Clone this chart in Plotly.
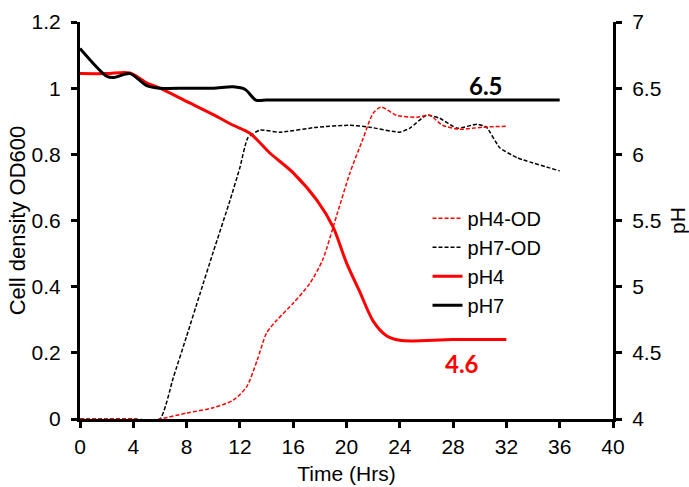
import plotly.graph_objects as go

# ---- data ----
t_ph4_od = [0, 2, 4, 5, 6, 8, 10, 11.5, 12.5, 13.3, 14, 14.8, 16, 17.25, 18.2, 19.3, 20.25, 21.2, 22, 22.6, 23.75, 25.3, 26.25, 27.2, 28.5, 30.2, 32]
ph4_od = [0, 0, 0, -0.005, 0, 0.018, 0.034, 0.057, 0.097, 0.178, 0.26, 0.30, 0.35, 0.41, 0.48, 0.62, 0.743, 0.843, 0.924, 0.943, 0.918, 0.912, 0.918, 0.888, 0.876, 0.882, 0.885]

t_ph7_od = [0, 2, 4, 6, 7, 8, 9, 10, 11.25, 12, 12.6, 13.5, 15, 17.8, 20.25, 21.75, 24, 24.75, 26, 27, 28.3, 29.8, 30.5, 31.5, 32.8, 36]
ph7_od = [0, 0, 0, 0, 0.125, 0.25, 0.378, 0.505, 0.66, 0.76, 0.85, 0.873, 0.867, 0.882, 0.888, 0.882, 0.867, 0.879, 0.918, 0.909, 0.879, 0.891, 0.882, 0.82, 0.79, 0.75]

t_ph4 = [0, 2, 3.75, 5, 6, 8, 10, 11.5, 12.75, 14.25, 16, 17.8, 19, 20, 21, 22, 23, 24, 25, 28, 32]
ph4 = [6.61, 6.61, 6.615, 6.54, 6.50, 6.40, 6.30, 6.22, 6.16, 6.01, 5.86, 5.65, 5.45, 5.18, 4.96, 4.74, 4.63, 4.595, 4.59, 4.6, 4.6]

t_ph7 = [0, 2, 2.5, 3.75, 5, 6, 8, 10, 11.5, 12.4, 13.2, 14, 16, 20, 24, 28, 32, 36]
ph7 = [6.80, 6.59, 6.58, 6.61, 6.52, 6.50, 6.50, 6.50, 6.51, 6.49, 6.41, 6.41, 6.41, 6.41, 6.41, 6.41, 6.41, 6.41]

x_ticks = list(range(0, 41, 4))
label_ph7 = "6.5"
label_ph4 = "4.6"

FONT = "Arial, Liberation Sans, sans-serif"
BOLD_FONT = "Lato, Open Sans, sans-serif"
FS = 21
dash = "4px,2px"

fig = go.Figure()
fig.add_trace(go.Scatter(x=t_ph7_od, y=ph7_od, name="pH7-OD", mode="lines",
                         line=dict(color="#000000", width=1.5, dash=dash, shape="spline", smoothing=0.5),
                         legendgroup="b", legendrank=2))
fig.add_trace(go.Scatter(x=t_ph4_od, y=ph4_od, name="pH4-OD", mode="lines",
                         line=dict(color="#ff0000", width=1.5, dash=dash, shape="spline", smoothing=0.7),
                         legendgroup="a", legendrank=1))
fig.add_trace(go.Scatter(x=t_ph4, y=ph4, name="pH4", mode="lines", yaxis="y2",
                         line=dict(color="#ff0000", width=3, shape="spline", smoothing=0.8),
                         legendgroup="c", legendrank=3))
fig.add_trace(go.Scatter(x=t_ph7, y=ph7, name="pH7", mode="lines", yaxis="y2",
                         line=dict(color="#000000", width=3, shape="spline", smoothing=0.8),
                         legendgroup="d", legendrank=4))

axis_common = dict(showline=True, linecolor="black", linewidth=3, ticks="outside",
                   ticklen=6, tickwidth=3, tickcolor="black", showgrid=False, zeroline=False,
                   automargin=False,
                   tickfont=dict(family=FONT, size=FS, color="black"))

fig.update_layout(
    width=689, height=487,
    margin=dict(l=80, r=76, t=22, b=68),
    paper_bgcolor="white", plot_bgcolor="white",
    font=dict(family=FONT, size=FS, color="black"),
    xaxis=dict(range=[0, 40], tickvals=x_ticks, ticklabelstandoff=1, **axis_common,
               title=dict(text="Time (Hrs)", font=dict(family=FONT, size=FS), standoff=10)),
    yaxis=dict(range=[0, 1.2], dtick=0.2, ticklabelstandoff=6, **axis_common,
               title=dict(text="Cell density OD600", font=dict(family=FONT, size=22), standoff=0)),
    yaxis2=dict(range=[4, 7], dtick=0.5, overlaying="y", side="right", ticklabelstandoff=6, **axis_common,
                title=dict(text="pH", font=dict(family=FONT, size=FS), standoff=12)),
    legend=dict(x=0.652, y=0.555, xanchor="left", yanchor="top", bgcolor="rgba(0,0,0,0)",
                font=dict(family=FONT, size=20), traceorder="grouped", tracegroupgap=0),
    showlegend=True,
    annotations=[
        dict(x=30.5, y=6.52, xref="x", yref="y2", text="<b>" + label_ph7 + "</b>", showarrow=False,
             font=dict(family=BOLD_FONT, size=24, color="black")),
        dict(x=28.65, y=4.42, xref="x", yref="y2", text="<b>" + label_ph4 + "</b>", showarrow=False,
             font=dict(family=BOLD_FONT, size=24, color="#ff0000")),
    ],
)

fig.write_html("out.html")
